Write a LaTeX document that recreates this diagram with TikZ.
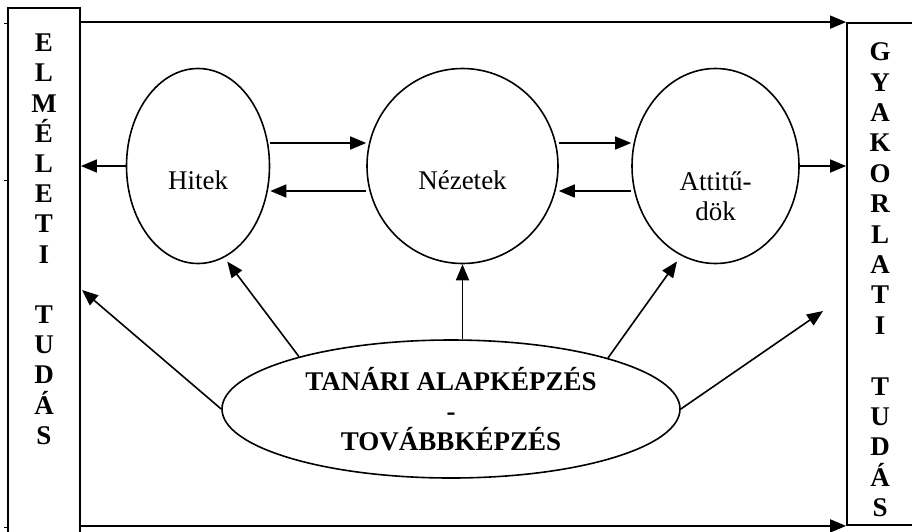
\documentclass[tikz,border=0pt]{standalone}
\usepackage{fontspec}
\setmainfont{Liberation Serif}
\usetikzlibrary{shapes.geometric,arrows.meta,calc}
\begin{document}
\begin{tikzpicture}[x=1pt,y=-1pt,
  every node/.style={font=\fontsize{27pt}{30pt}\selectfont, inner sep=0pt},
  ell/.style={draw, ellipse, line width=1.6pt},
  boxx/.style={draw, rectangle, line width=1.8pt},
  arr/.style={-{Triangle[length=16pt,width=13pt]}, line width=1.6pt},
  lt/.style={font=\fontsize{27pt}{30pt}\selectfont\bfseries, anchor=base},
  tick/.style={line width=1pt}]
\clip (0,0) rectangle (912,531);
\fill[white] (0,0) rectangle (912,531);
% side boxes
\node[boxx, minimum width=72pt, minimum height=560pt] (elm) at (44,288) {};
\node[boxx, minimum width=100pt, minimum height=502pt] (gyak) at (897,274) {};
% small ticks at left
\draw[tick] (4,23) -- (elm.west |- 0,23);
\draw[tick] (4,180) -- (elm.west |- 0,180);
\draw[tick] (4,527) -- (elm.west |- 0,527);
% vertical letters
\foreach \i/\c in {0/E,1/L,2/M,3/É,4/L,5/E,6/T,7/I,9/T,10/U,11/D,12/Á,13/S}
  \node[lt] (el\i) at (44,51.6+30.2*\i) {\c};
\foreach \i/\c in {0/G,1/Y,2/A,3/K,4/O,5/R,6/L,7/A,8/T,9/I,11/T,12/U,13/D,14/Á,15/S}
  \node[lt] (gy\i) at (880,60.6+30.4*\i) {\c};
% ellipses
\node[ell, minimum width=143pt, minimum height=195pt,
  label={[name=hitektext, yshift=-14pt]center:Hitek}] (hitek) at (198,166) {};
\node[ell, minimum width=191pt, minimum height=195pt,
  label={[name=neztext, yshift=-14pt]center:Nézetek}] (nez) at (462.5,166) {};
\node[ell, minimum width=167pt, minimum height=195pt,
  label={[name=atttext, yshift=-30pt, align=center]center:Attitű-\\dök}] (att) at (715.5,166) {};
\node[ell, minimum width=458pt, minimum height=138pt, align=center,
  font=\fontsize{27pt}{30pt}\selectfont\bfseries] (tan) at (451,409)
  {TANÁRI ALAPKÉPZÉS\\-\\TOVÁBBKÉPZÉS};
% free ends
\coordinate (pl) at (82,290);
\coordinate (pr) at (823,311);
% top and bottom lines
\draw[arr] (gyak.north west -| elm.east) -- (gyak.north west);
\draw[arr] (gyak.south west -| elm.east) -- (gyak.south west);
% side arrows
\draw[arr] (hitek.west) -- (hitek.west -| elm.east);
\draw[arr] (att.east) -- (att.east -| gyak.west);
% between ellipses
\draw[arr] ([yshift=23pt]hitek.east) -- ([yshift=23pt]nez.west);
\draw[arr] ([yshift=-25pt]nez.west) -- ([yshift=-25pt]hitek.east);
\draw[arr] ([yshift=23pt]nez.east) -- ([yshift=23pt]att.west);
\draw[arr] ([yshift=-25pt]att.west) -- ([yshift=-25pt]nez.east);
% from Tanari
\draw[arr] (tan.north -| nez.south) -- (nez.south);
\draw[arr, shorten >=5pt] (tan.161.8) -- (hitek.-74.7);
\draw[arr, shorten >=7pt] (tan.18.1) -- (att.-111.1);
\draw[arr] (tan.east) -- (pr);
\draw[arr] (tan.west) -- (pl);
\end{tikzpicture}
\end{document}
